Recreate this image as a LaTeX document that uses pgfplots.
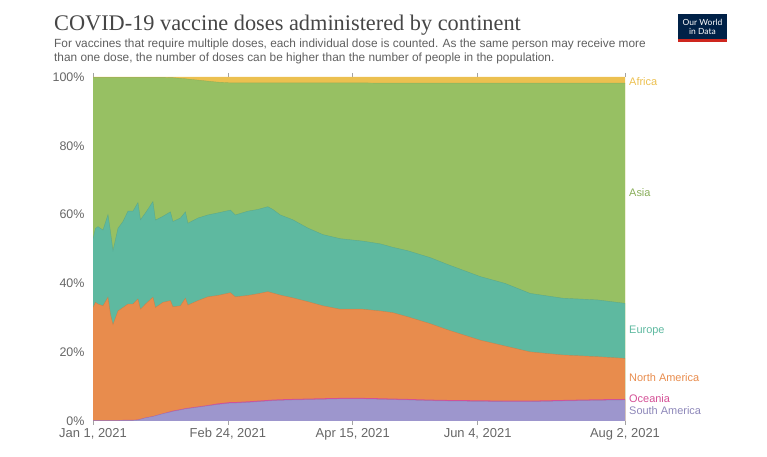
\documentclass[border=0pt]{standalone}
\usepackage{fontspec}
\setmainfont{Liberation Sans}
\newfontfamily\titlefont{Liberation Serif}
\newfontfamily\logofont{Lato}
\usepackage{pgfplots}
\pgfplotsset{compat=1.18}
\usepackage{pgfplotstable}
\definecolor{cAfrica}{RGB}{236,192,80}
\definecolor{cAsia}{RGB}{151,192,99}
\definecolor{cEurope}{RGB}{94,185,160}
\definecolor{cNA}{RGB}{232,140,77}
\definecolor{cOce}{RGB}{212,80,150}
\definecolor{cSA}{RGB}{157,150,205}
\definecolor{txt}{RGB}{102,102,102}
\definecolor{owid}{RGB}{0,33,71}
\definecolor{owidred}{RGB}{206,38,30}

% cumulative boundaries (percent): s = South America top, so = Oceania top,
% n = North America top, e = Europe top, a = Asia top, t = Africa top
\pgfplotstableread{
d s so n e a t
0 0.1 0.2 33 53 99.9 100
1 0.1 0.2 34.5 56 99.9 100
2 0.1 0.2 34 56.5 99.9 100
4 0.1 0.2 33.5 55.5 99.9 100
6 0.1 0.2 36 60 99.9 100
7 0.1 0.2 31 55 99.9 100
8 0.1 0.2 28 49.5 99.9 100
10 0.1 0.2 32 56 99.9 100
12 0.2 0.3 33 58 99.9 100
14 0.2 0.3 34 61 99.9 100
16 0.2 0.3 34 61 99.9 100
18 0.3 0.4 35.5 63.5 99.9 100
19 0.5 0.6 32.5 58.5 99.9 100
21 0.9 1.0 34 60.5 99.9 100
24 1.3 1.4 36 63.8 99.9 100
25 1.5 1.6 33 58.4 99.9 100
28 2.1 2.2 34.5 59.5 99.9 100
31 2.6 2.8 35 60.8 99.8 100
32 2.8 3.0 33.2 58 99.8 100
35 3.2 3.4 33.5 59 99.6 100
37 3.5 3.7 35.7 60.8 99.5 100
38 3.6 3.8 33.7 57.5 99.4 100
42 4.0 4.2 35 59 99.1 100
46 4.4 4.6 36.1 59.9 98.8 100
50 4.8 5.1 36.5 60.5 98.5 100
55 5.2 5.5 37.3 61.3 98.3 100
57 5.2 5.5 36.1 59.9 98.3 100
62 5.4 5.7 36.5 61 98.3 100
66 5.6 5.9 37 61.5 98.3 100
70 5.8 6.1 37.6 62.3 98.3 100
72 5.9 6.2 37.2 61.5 98.3 100
75 6.0 6.3 36.6 59.9 98.3 100
80 6.1 6.4 35.8 58.5 98.3 100
86 6.2 6.5 34.7 56.1 98.3 100
92 6.3 6.6 33.5 54.2 98.3 100
99 6.4 6.7 32.5 53 98.3 100
108 6.4 6.7 32.5 52.3 98.3 100
115 6.3 6.6 32 51.5 98.2 100
120 6.2 6.5 31.5 50.5 98.2 100
126 6.1 6.4 30.3 49.5 98.2 100
135 5.9 6.2 28.3 47.5 98.2 100
142 5.8 6.1 26.5 45.5 98.2 100
155 5.7 6.0 23.5 42 98.2 100
165 5.6 5.9 21.8 40 98.2 100
175 5.6 5.9 20.1 37.1 98.2 100
188 5.8 6.1 19.2 35.7 98.2 100
202 6.0 6.3 18.7 35.2 98.2 100
213 6.1 6.4 18.2 34.2 98.2 100
}\data

\begin{document}
\begin{tikzpicture}
\useasboundingbox (0bp,0bp) rectangle (767bp,457bp);
% title and subtitle
\node[anchor=base west, inner sep=0, text={rgb,255:red,70;green,70;blue,70}, font=\titlefont\fontsize{22.4}{26}\selectfont] at (54bp,426bp) {COVID-19 vaccine doses administered by continent};
\node[anchor=base west, inner sep=0, text={rgb,255:red,95;green,95;blue,95}, font=\fontsize{11.9}{13}\selectfont] at (54bp,409.5bp) {For vaccines that require multiple doses, each individual dose is counted. As the same person may receive more};
\node[anchor=base west, inner sep=0, text={rgb,255:red,95;green,95;blue,95}, font=\fontsize{11.9}{13}\selectfont] at (54bp,395bp) {than one dose, the number of doses can be higher than the number of people in the population.};
% logo
\fill[owid] (678bp,418bp) rectangle (727bp,443bp);
\fill[owidred] (678bp,414.5bp) rectangle (727bp,418bp);
\node[text=white, align=center, font=\logofont\fontsize{8.5}{9}\selectfont, inner sep=0] at (702.5bp,430.5bp) {Our World\\in Data};

\begin{axis}[
  at={(93bp,36bp)}, anchor=south west,
  scale only axis, width=532bp, height=344bp,
  xmin=0, xmax=213, ymin=0, ymax=100,
  axis line style={draw=none},
  ytick={0,20,40,60,80,100},
  yticklabels={0\%,20\%,40\%,60\%,80\%,100\%},
  xtick={0,54,104,154,213},
  xticklabels={{Jan 1, 2021},{Feb 24, 2021},{Apr 15, 2021},{Jun 4, 2021},{Aug 2, 2021}},
  ytick style={draw=none},
  xtick style={draw=txt!60, line width=0.6bp},
  tick align=outside, major tick length=4bp,
  yticklabel style={font=\fontsize{12.5}{14}\selectfont, text=txt, xshift=-1bp},
  xticklabel style={font=\fontsize{13}{15}\selectfont, text=txt},
  clip=true,
]
\addplot[fill=cAfrica, draw=none] table[x=d, y=t] {\data} \closedcycle;
\addplot[fill=cAsia, draw=none] table[x=d, y=a] {\data} \closedcycle;
\addplot[fill=cEurope, draw=none] table[x=d, y=e] {\data} \closedcycle;
\addplot[fill=cNA, draw=none] table[x=d, y=n] {\data} \closedcycle;
\addplot[fill=cOce, draw=none] table[x=d, y=so] {\data} \closedcycle;
\addplot[fill=cSA, draw=none] table[x=d, y=s] {\data} \closedcycle;
\addplot[cAsia!85!black, line width=0.4bp, opacity=0.6] table[x=d, y=a] {\data};
\addplot[cEurope!85!black, line width=0.4bp, opacity=0.6] table[x=d, y=e] {\data};
\addplot[cNA!85!black, line width=0.4bp, opacity=0.6] table[x=d, y=n] {\data};
\addplot[cSA!85!black, line width=0.4bp, opacity=0.6] table[x=d, y=s] {\data};
\draw[txt!50, line width=0.6bp] (axis cs:0,0) -- (axis cs:213,0);
\end{axis}
% right-hand labels
\begin{scope}[every node/.style={anchor=west, inner sep=0, font=\fontsize{11}{13}\selectfont}]
\node[text=cAfrica] at (629bp,375bp) {Africa};
\node[text=cAsia!90!black] at (629bp,264bp) {Asia};
\node[text=cEurope] at (629bp,126bp) {Europe};
\node[text=cNA] at (629bp,79bp) {North America};
\node[text=cOce] at (629bp,58bp) {Oceania};
\node[text=cSA!90!black] at (629bp,46bp) {South America};
\end{scope}
\end{tikzpicture}
\end{document}
